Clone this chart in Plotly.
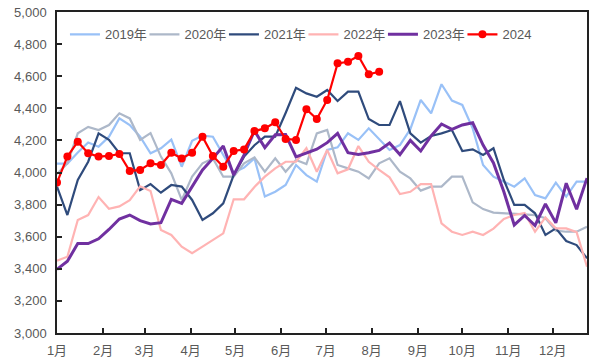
import pandas as pd
import plotly.graph_objects as go

# ---- data ----
weeks = pd.date_range("2023-01-01", periods=52, freq="7D")
month_starts = pd.date_range("2023-01-01", periods=12, freq="MS")
month_labels = ["1月", "2月", "3月", "4月", "5月", "6月", "7月", "8月", "9月", "10月", "11月", "12月"]

y2019 = [4055, 4055, 4125, 4187, 4161, 4223, 4337, 4296, 4223, 4120, 4151, 4205, 4036,
         4197, 4230, 4223, 4109, 4000, 4030, 4088, 3850, 3880, 3922, 4047, 3984, 3943,
         4140, 4157, 4244, 4203, 4275, 4207, 4140, 4171, 4270, 4452, 4369, 4550, 4448,
         4421, 4275, 4047, 3974, 3943, 3912, 3964, 3860, 3839, 3937, 3850, 3943, 3943]
y2020 = [3990, 4057, 4244, 4284, 4265, 4296, 4369, 4337, 4203, 4246, 4099, 3995, 3829,
         3974, 4057, 4088, 3974, 3974, 4057, 4094, 4005, 4088, 4005, 4078, 4053, 4244,
         4265, 4047, 4026, 4005, 3963, 4057, 4088, 4005, 3963, 3887, 3912, 3912, 3974,
         3974, 3814, 3772, 3750, 3746, 3742, 3742, 3735, 3715, 3638, 3631, 3631, 3662]
y2021 = [3912, 3735, 3953, 4067, 4244, 4203, 4120, 4120, 3890, 3928, 3874, 3922, 3912,
         3829, 3704, 3746, 3808, 3984, 4099, 4170, 4223, 4223, 4371, 4528, 4493, 4472,
         4514, 4445, 4504, 4504, 4333, 4296, 4296, 4445, 4244, 4186, 4228, 4244, 4265,
         4134, 4144, 4109, 4151, 3953, 3798, 3798, 3746, 3611, 3652, 3573, 3548, 3465]
y2022 = [3450, 3475, 3704, 3735, 3847, 3774, 3789, 3827, 3914, 3885, 3642, 3611, 3538,
         3497, 3538, 3580, 3621, 3833, 3833, 3910, 3974, 4026, 4067, 4067, 4151, 4005,
         4140, 3995, 4020, 4165, 4067, 4016, 3970, 3866, 3880, 3928, 3928, 3683, 3631,
         3611, 3631, 3611, 3650, 3710, 3735, 3748, 3631, 3720, 3652, 3652, 3628, 3413]
y2023 = [3397, 3447, 3557, 3557, 3587, 3645, 3710, 3735, 3700, 3679, 3687, 3833, 3808,
         3912, 4016, 4088, 4165, 3984, 4110, 4260, 4155, 4235, 4236, 4097, 4120, 4145,
         4186, 4244, 4123, 4112, 4123, 4138, 4184, 4112, 4200, 4134, 4228, 4302, 4269,
         4296, 4310, 4171, 4060, 3880, 3673, 3732, 3670, 3804, 3686, 3933, 3771, 3965]
y2024 = [3937, 4099, 4192, 4120, 4099, 4103, 4115, 4009, 4016, 4057, 4047, 4123, 4088,
         4123, 4223, 4103, 4036, 4134, 4144, 4258, 4275, 4313, 4209, 4203, 4394, 4333,
         4452, 4680, 4690, 4726, 4612, 4628]

series = [
    ("2019年", y2019, "#99C1F7", 2.2),
    ("2020年", y2020, "#ADB8C9", 2.2),
    ("2021年", y2021, "#2F4B7C", 2.2),
    ("2022年", y2022, "#FFB3B3", 2.2),
    ("2023年", y2023, "#7030A0", 3),
]

FONT = "Arial, 'Liberation Sans', 'Noto Sans CJK SC', sans-serif"
TXT = "#595959"

fig = go.Figure()
for name, vals, color, w in series:
    fig.add_trace(go.Scatter(x=weeks[:len(vals)], y=vals, name=name, mode="lines",
                             line=dict(color=color, width=w)))
fig.add_trace(go.Scatter(x=weeks[:len(y2024)], y=y2024, name="2024", mode="lines+markers",
                         line=dict(color="#FF0000", width=2.2),
                         marker=dict(color="#FF0000", size=8)))

fig.update_layout(
    width=594, height=363,
    margin=dict(l=57, r=7, t=12, b=30, autoexpand=False),
    paper_bgcolor="white", plot_bgcolor="white",
    font=dict(family=FONT, size=13, color=TXT),
    showlegend=True,
    legend=dict(orientation="h", x=0.015, y=0.977, xanchor="left", yanchor="top",
                bgcolor="rgba(0,0,0,0)", font=dict(size=13, color=TXT),
                itemwidth=30, tracegroupgap=0, entrywidth=34.5),
)
fig.update_xaxes(
    type="date", range=[weeks[0], weeks[-1]], automargin=False,
    tickvals=month_starts, ticktext=month_labels,
    showgrid=False, zeroline=False,
    showline=True, linecolor="#222222", linewidth=1.5, mirror=True,
    ticks="inside", ticklen=5, tickcolor="#222222", tickwidth=1.5,
    tickfont=dict(size=13, color=TXT, family=FONT), ticklabelstandoff=5,
)
fig.update_yaxes(
    range=[3000, 5000], dtick=200, tickformat=",", automargin=False,
    showgrid=False, zeroline=False,
    showline=True, linecolor="#222222", linewidth=1.5, mirror=True,
    ticks="inside", ticklen=5, tickcolor="#222222", tickwidth=1.5,
    tickfont=dict(size=13, color=TXT, family=FONT), ticklabelstandoff=6,
)
fig.write_html("out.html", config={"displayModeBar": False},
               post_script="document.body.style.margin='0';")
